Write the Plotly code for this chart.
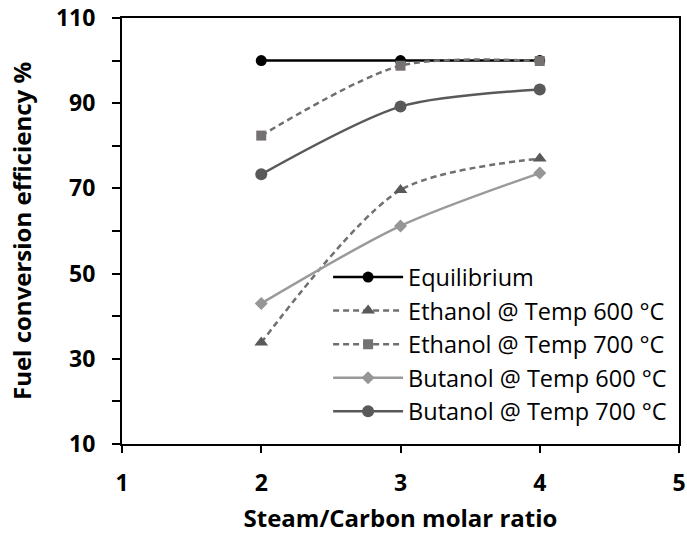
import plotly.graph_objects as go

# Steam/Carbon molar ratios tested
ratios = [2, 3, 4]

# Fuel conversion efficiency (%) per case
equilibrium = [100.0, 100.0, 100.0]
ethanol_600 = [33.8, 69.6, 77.0]
ethanol_700 = [82.4, 98.8, 99.9]
butanol_600 = [43.0, 61.2, 73.6]
butanol_700 = [73.3, 89.2, 93.2]

series = [
    ("Equilibrium", equilibrium, "#000000", "#000000", "solid", "circle", 11),
    ("Ethanol @ Temp 600 °C", ethanol_600, "#707070", "#595959", "dash", "triangle-up", 12),
    ("Ethanol @ Temp 700 °C", ethanol_700, "#6f6f6f", "#767171", "dash", "square", 10),
    ("Butanol @ Temp 600 °C", butanol_600, "#9a9a9a", "#969696", "solid", "diamond", 10),
    ("Butanol @ Temp 700 °C", butanol_700, "#595959", "#595959", "solid", "circle", 12),
]

fig = go.Figure()
for name, vals, lcol, mcol, dash, sym, msize in series:
    fig.add_trace(go.Scatter(
        x=ratios, y=vals, name=name, mode="lines+markers",
        line=dict(color=lcol, width=2.5, dash="6px,4px" if dash == "dash" else "solid",
                  shape="spline", smoothing=0.8),
        marker=dict(symbol=sym, size=msize, color=mcol),
    ))

tick_font = dict(family="Open Sans", size=23, color="#000000")
title_font = dict(family="Open Sans", size=24, color="#000000")

fig.update_layout(
    width=687, height=537,
    margin=dict(l=122, r=8, t=18, b=93),
    paper_bgcolor="white", plot_bgcolor="white",
    font=dict(family="Open Sans", color="#000000"),
    showlegend=True,
    legend=dict(
        x=0.37, y=0.443, xanchor="left", yanchor="top",
        bgcolor="rgba(255,255,255,0)", borderwidth=0,
        font=dict(family="Open Sans", size=23.5, color="#000000"),
        itemwidth=70, tracegroupgap=0,
    ),
    xaxis=dict(
        range=[1, 5], tick0=1, dtick=1, automargin=False,
        showgrid=False, zeroline=False,
        showline=True, linecolor="#000000", linewidth=2, mirror=True,
        ticks="outside", ticklen=7, tickwidth=2, tickcolor="#000000",
        tickfont=tick_font, ticklabelstandoff=10, ticklabeloverflow="allow",
        title=dict(text="<b>Steam/Carbon molar ratio</b>", font=title_font, standoff=14),
    ),
    yaxis=dict(
        range=[10, 110], tick0=10, dtick=20, automargin=False,
        showgrid=False, zeroline=False,
        showline=True, linecolor="#000000", linewidth=2, mirror=True,
        ticks="outside", ticklen=8, tickwidth=2, tickcolor="#000000",
        minor=dict(tick0=10, dtick=10, ticks="outside", ticklen=8, tickwidth=2,
                   tickcolor="#000000", showgrid=False),
        tickfont=tick_font, ticklabelstandoff=12, ticklabeloverflow="allow",
        title=dict(text="<b>Fuel conversion efficiency %</b>", font=title_font, standoff=18),
    ),
)
fig.update_xaxes(tickprefix="<b>", ticksuffix="</b>")
fig.update_yaxes(tickprefix="<b>", ticksuffix="</b>")

fig.write_html("out.html")
